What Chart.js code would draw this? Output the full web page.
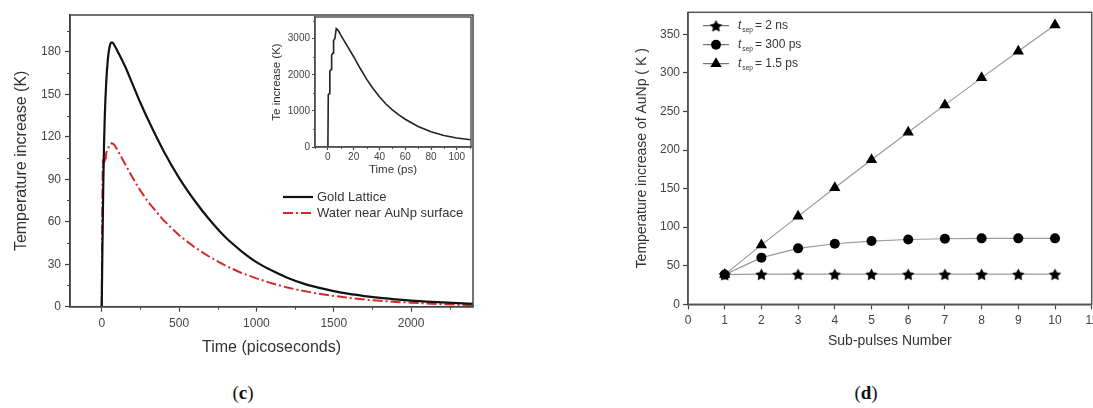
<!DOCTYPE html>
<html>
<head>
<meta charset="utf-8">
<script src="https://cdn.jsdelivr.net/npm/chart.js@4.4.1/dist/chart.umd.min.js"></script>
<style>
  html, body { margin: 0; padding: 0; background: #fff; }
  #page { position: relative; width: 1093px; height: 408px; overflow: hidden; }
  canvas { position: absolute; }
  .cap { position: absolute; font-family: "Liberation Serif", "Times New Roman", serif; font-size: 19px; color: #111; transform: translate(-50%, -50%); white-space: nowrap; }
</style>
</head>
<body>
<div id="page">
  <canvas id="lattice" width="480" height="370" style="left:0px;top:0px"></canvas>
  <canvas id="electron" width="210" height="172" style="left:265px;top:10px"></canvas>
  <canvas id="pulses" width="468" height="365" style="left:625px;top:0px"></canvas>
  <div class="cap" style="left:243px;top:393px">(<b>c</b>)</div>
  <div class="cap" style="left:866px;top:393px">(<b>d</b>)</div>
</div>
<script>
const SANS = '"Liberation Sans", Arial, sans-serif';

// (c) lattice and water temperature after the pulse (ps, K)
const goldTime = [0, 5, 10, 15, 20, 30, 40, 50, 60, 70, 80, 100, 150, 200, 250, 300, 400, 500, 600, 700, 800, 900, 1000, 1100, 1200, 1300, 1400, 1500, 1600, 1700, 1800, 1900, 2000, 2100, 2200, 2300, 2400];
const goldTemp = [0, 45, 85, 115, 135, 160, 175, 183, 186.5, 186.5, 185, 181, 170, 157, 144, 132, 110, 91, 75, 61, 49, 39.5, 31.5, 25.5, 20.5, 16.5, 13.5, 11, 9, 7.5, 6.2, 5.2, 4.3, 3.6, 3, 2.5, 2.1];
const waterTime = [0, 2, 4, 6, 8, 10, 14, 18, 22, 26, 30, 35, 40, 50, 65, 80, 100, 150, 200, 250, 300, 400, 500, 600, 700, 800, 900, 1000, 1100, 1200, 1300, 1400, 1500, 1600, 1700, 1800, 1900, 2000, 2100, 2200, 2300, 2400];
const waterTemp = [0, 40, 75, 95, 104, 100, 106, 102, 108, 104, 109, 110, 111.5, 114, 115.5, 114.5, 111, 101, 91, 82, 74, 61, 50.5, 42, 35, 29, 24, 20, 16.5, 13.5, 11.2, 9.2, 7.6, 6.2, 5.1, 4.2, 3.4, 2.8, 2.3, 1.8, 1.4, 1.1];
const latticeTicksX = [0, 500, 1000, 1500, 2000];
const latticeTicksY = [0, 30, 60, 90, 120, 150, 180];

// inset: electron temperature (ps, K)
const electronTime = [0, 0.3, 1.2, 1.5, 2.6, 2.9, 4.0, 4.4, 5.4, 6.5, 8, 10, 15, 20, 25, 30, 35, 40, 45, 50, 55, 60, 70, 80, 90, 100, 111];
const electronTemp = [0, 1450, 1480, 2100, 2150, 2550, 2600, 2950, 3000, 3280, 3230, 3100, 2800, 2500, 2180, 1880, 1620, 1390, 1190, 1030, 890, 770, 570, 420, 320, 250, 200];
const electronTicksX = [0, 20, 40, 60, 80, 100];
const electronTicksY = [0, 1000, 2000, 3000];

// (d) temperature vs number of sub-pulses
const subPulses = [1, 2, 3, 4, 5, 6, 7, 8, 9, 10];
const temp2ns = [38.5, 39, 39, 39, 39, 39, 39, 39, 39, 39];
const temp300ps = [38.5, 60.5, 72.5, 78.5, 82, 84, 85, 85.5, 85.5, 85.5];
const temp15ps = [38.5, 77, 114, 151, 187.5, 223, 258.5, 293.5, 328, 362];
const sepLabels = ['2 ns', '300 ps', '1.5 ps'];
const pulseTicksX = [0, 1, 2, 3, 4, 5, 6, 7, 8, 9, 10, 11];
const pulseTicksY = [0, 50, 100, 150, 200, 250, 300, 350];

function toPoints(xs, ys) {
  return xs.map((x, i) => ({ x: x, y: ys[i] }));
}

function starImage(r) {
  const c = document.createElement('canvas');
  const size = Math.ceil(r * 2) + 2;
  c.width = size;
  c.height = size;
  const ctx = c.getContext('2d');
  ctx.translate(size / 2, size / 2 + r * 0.1);
  ctx.beginPath();
  for (let i = 0; i < 10; i++) {
    const rad = i % 2 === 0 ? r : r * 0.5;
    const a = -Math.PI / 2 + i * Math.PI / 5;
    ctx.lineTo(Math.cos(a) * rad, Math.sin(a) * rad);
  }
  ctx.closePath();
  ctx.fillStyle = '#000';
  ctx.fill();
  return c;
}
const star = starImage(6.5);

// box around the plot area + short minor ticks
const frame = {
  id: 'frame',
  afterDraw(chart, args, opts) {
    const { ctx, chartArea: a } = chart;
    ctx.save();
    ctx.strokeStyle = opts.color;
    ctx.lineWidth = 1;
    (opts.minor || []).forEach(m => {
      const scale = chart.scales[m.axis];
      for (let v = Math.ceil(scale.min / m.step) * m.step; v <= scale.max; v += m.step) {
        if (Math.abs(v / m.major - Math.round(v / m.major)) < 1e-6) continue;
        const p = Math.round(scale.getPixelForValue(v)) + 0.5;
        ctx.beginPath();
        if (scale.isHorizontal()) {
          ctx.moveTo(p, a.bottom);
          ctx.lineTo(p, a.bottom + m.len);
        } else {
          ctx.moveTo(a.left, p);
          ctx.lineTo(a.left - m.len, p);
        }
        ctx.stroke();
      }
    });
    ctx.lineWidth = opts.width;
    ctx.strokeRect(a.left, a.top, a.right - a.left, a.bottom - a.top);
    ctx.restore();
  }
};

function drawMarker(ctx, ds, x, y) {
  const s = ds.pointStyle;
  const r = ds.pointRadius;
  ctx.fillStyle = '#000';
  if (s instanceof HTMLCanvasElement) {
    ctx.drawImage(s, x - s.width / 2, y - s.height / 2);
  } else if (s === 'triangle') {
    ctx.beginPath();
    for (let k = 0; k < 3; k++) {
      const rad = k * 2 * Math.PI / 3;
      ctx.lineTo(x + Math.sin(rad) * r, y - Math.cos(rad) * r);
    }
    ctx.closePath();
    ctx.fill();
  } else {
    ctx.beginPath();
    ctx.arc(x, y, r, 0, Math.PI * 2);
    ctx.fill();
  }
}

// legend drawn inside the plot
const key = {
  id: 'key',
  afterDraw(chart, args, opts) {
    const ctx = chart.ctx;
    chart.data.datasets.forEach((ds, i) => {
      const y = opts.y + i * opts.dy;
      ctx.save();
      ctx.strokeStyle = opts.lineColor || ds.borderColor;
      ctx.lineWidth = opts.lineWidth || ds.borderWidth;
      ctx.setLineDash(opts.markers ? [] : (ds.borderDash || []));
      ctx.beginPath();
      ctx.moveTo(opts.x, y);
      ctx.lineTo(opts.x + opts.len, y);
      ctx.stroke();
      ctx.setLineDash([]);
      if (opts.markers) drawMarker(ctx, ds, opts.x + opts.len / 2, y);
      ctx.fillStyle = opts.color;
      ctx.textBaseline = 'middle';
      let tx = opts.x + opts.len + opts.gap;
      let text = ds.label;
      if (text.startsWith('t_sep')) {
        ctx.font = 'italic ' + opts.size + 'px ' + SANS;
        ctx.fillText('t', tx, y);
        tx += ctx.measureText('t').width + 1;
        ctx.font = (opts.size * 0.55) + 'px ' + SANS;
        ctx.fillText('sep', tx, y + 4);
        tx += ctx.measureText('sep').width + 2;
        text = text.slice(6);
      }
      ctx.font = opts.size + 'px ' + SANS;
      ctx.fillText(text, tx, y);
      ctx.restore();
    });
  }
};

function axis(o) {
  return {
    type: 'linear',
    min: o.min,
    max: o.max,
    afterBuildTicks: s => { s.ticks = o.values.map(v => ({ value: v })); },
    afterFit: s => {
      // fixed axis box, no extra room for overhanging labels
      s.paddingLeft = 0; s.paddingRight = 0; s.paddingTop = 0; s.paddingBottom = 0;
      o.fit(s);
    },
    ticks: {
      padding: o.pad,
      color: '#444',
      font: { family: SANS, size: o.tickSize },
      callback: v => String(v)
    },
    grid: { drawOnChartArea: false, tickLength: o.tick, tickColor: '#444', tickWidth: 1.2 },
    border: { color: '#444', width: 1.5 },
    title: {
      display: true,
      text: o.title,
      color: '#333',
      font: { family: SANS, size: o.titleSize },
      padding: o.titlePad
    }
  };
}

new Chart(document.getElementById('lattice'), {
  type: 'line',
  data: {
    datasets: [
      { label: 'Gold Lattice', data: toPoints(goldTime, goldTemp), borderColor: '#111', borderWidth: 2.2, pointRadius: 0, cubicInterpolationMode: 'monotone' },
      { label: 'Water near AuNp surface', data: toPoints(waterTime, waterTemp), borderColor: '#d42a2a', borderWidth: 2, borderDash: [10, 3, 2, 3], pointRadius: 0 }
    ]
  },
  options: {
    responsive: false,
    animation: false,
    layout: { padding: { top: 15, right: 7, left: 0, bottom: 0 }, autoPadding: false },
    plugins: {
      legend: { display: false },
      tooltip: { enabled: false },
      frame: { color: '#444', width: 1.5, minor: [{ axis: 'x', step: 250, major: 500, len: 3 }, { axis: 'y', step: 15, major: 30, len: 3 }] },
      key: { x: 283, y: 197, dy: 16, len: 30, gap: 4, size: 13, color: '#333' }
    },
    scales: {
      x: axis({ min: -205, max: 2400, values: latticeTicksX, pad: 5, tick: 5, tickSize: 12, title: 'Time (picoseconds)', titleSize: 16, titlePad: { top: 0, bottom: 13 }, fit: s => { s.height = 63.3; } }),
      y: axis({ min: 0, max: 206, values: latticeTicksY, pad: 4, tick: 5, tickSize: 12, title: 'Temperature increase (K)', titleSize: 16, titlePad: { top: 12, bottom: 0 }, fit: s => { s.width = 70; } })
    }
  },
  plugins: [frame, key]
});

new Chart(document.getElementById('electron'), {
  type: 'line',
  data: {
    datasets: [
      { label: 'Te', data: toPoints(electronTime, electronTemp), borderColor: '#222', borderWidth: 1.6, pointRadius: 0 }
    ]
  },
  options: {
    responsive: false,
    animation: false,
    layout: { padding: { top: 7, right: 4, left: 0, bottom: 0 }, autoPadding: false },
    plugins: {
      legend: { display: false },
      tooltip: { enabled: false },
      frame: { color: '#555', width: 1.5, minor: [{ axis: 'x', step: 10, major: 20, len: 2 }, { axis: 'y', step: 500, major: 1000, len: 2 }] }
    },
    scales: {
      x: axis({ min: -10, max: 111, values: electronTicksX, pad: 1, tick: 3, tickSize: 10, title: 'Time (ps)', titleSize: 11.5, titlePad: { top: 0, bottom: 5 }, fit: s => { s.height = 35; } }),
      y: axis({ min: 0, max: 3600, values: electronTicksY, pad: 2, tick: 3, tickSize: 10, title: 'Te increase (K)', titleSize: 11.5, titlePad: { top: 5, bottom: 0 }, fit: s => { s.width = 50; } })
    }
  },
  plugins: [frame]
});

const markerSets = [
  { data: temp2ns, style: star, r: 6.5 },
  { data: temp300ps, style: 'circle', r: 5 },
  { data: temp15ps, style: 'triangle', r: 6.5 }
];

new Chart(document.getElementById('pulses'), {
  type: 'line',
  data: {
    datasets: markerSets.map((m, i) => ({
      label: 't_sep = ' + sepLabels[i],
      data: toPoints(subPulses, m.data),
      borderColor: '#9a9a9a',
      borderWidth: 1.2,
      pointStyle: m.style,
      pointRadius: m.r,
      pointBackgroundColor: '#000',
      pointBorderColor: '#000',
      pointBorderWidth: 0
    }))
  },
  options: {
    responsive: false,
    animation: false,
    layout: { padding: { top: 12.3, right: 1.3, left: 0, bottom: 0 }, autoPadding: false },
    plugins: {
      legend: { display: false },
      tooltip: { enabled: false },
      frame: { color: '#555', width: 1.5 },
      key: { x: 78, y: 25.7, dy: 19, len: 26, gap: 9, size: 12, color: '#333', markers: true, lineColor: '#555', lineWidth: 1 }
    },
    scales: {
      x: axis({ min: 0, max: 11, values: pulseTicksX, pad: 4, tick: 5, tickSize: 12, title: 'Sub-pulses Number', titleSize: 14, titlePad: { top: 0, bottom: 15 }, fit: s => { s.height = 60.7; } }),
      y: axis({ min: 0, max: 378.5, values: pulseTicksY, pad: 3, tick: 5, tickSize: 12, title: 'Temperature increase of AuNp ( K )', titleSize: 14, titlePad: { top: 9, bottom: 0 }, fit: s => { s.width = 63; } })
    }
  },
  plugins: [frame, key]
});
</script>
</body>
</html>
